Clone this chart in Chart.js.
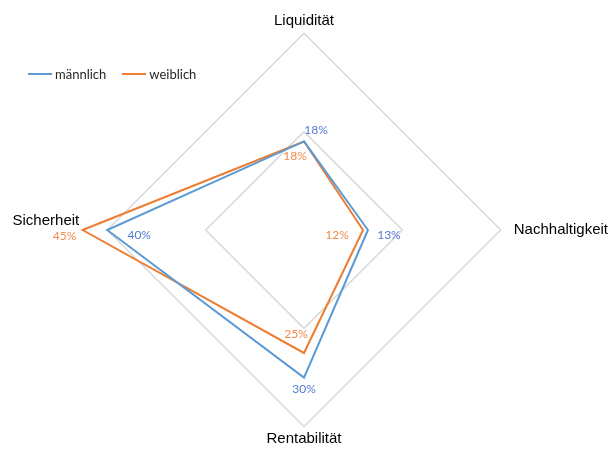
<!DOCTYPE html>
<html lang="de">
<head>
<meta charset="utf-8">
<title>Anlageziele nach Geschlecht</title>
<script src="https://cdn.jsdelivr.net/npm/chart.js@4.4.0/dist/chart.umd.min.js"></script>
<style>
  html, body { margin: 0; padding: 0; background: #fff; }
  #chartBox { position: relative; width: 615px; height: 452px; }
  #legend {
    position: absolute; left: 28px; top: 66px;
    display: flex; font: 13px Lato, sans-serif; color: #262626;
  }
  .legend-item { display: flex; align-items: center; margin-right: 16px; }
  .legend-line { width: 24px; height: 0; border-top: 2px solid; margin-right: 3px; }
</style>
</head>
<body>
<div id="chartBox">
  <canvas id="radarChart"></canvas>
  <div id="legend"></div>
</div>
<script>
// data
const categories = ["Liquidität", "Nachhaltigkeit", "Rentabilität", "Sicherheit"];
const seriesNames = ["männlich", "weiblich"];
const maleValues = [18, 13, 30, 40];
const femaleValues = [18, 12, 25, 45];
const gridTicks = [0, 20, 40];

// styling
const lineColors = ["#5B9BD5", "#ED7D31"];
const labelColors = ["#5479D2", "#F08A4B"];
const labelPadding = [3, 13, 3, 28];
// where each value label sits relative to its point (dx, dy)
const labelOffsets = [
  [[12, -11], [21, 5], [0, 12], [32, 5]],
  [[-9, 15], [-26, 5], [-8, -19], [-18, 6]]
];

// ------------------------------------------------------------
// value labels (no datalabels plugin available offline)
// ------------------------------------------------------------
const valueLabels = {
  id: "valueLabels",
  afterDatasetsDraw(chart) {
    const ctx = chart.ctx;
    ctx.save();
    ctx.font = "12px Lato, sans-serif";
    ctx.textAlign = "center";
    ctx.textBaseline = "middle";
    chart.data.datasets.forEach((ds, d) => {
      const meta = chart.getDatasetMeta(d);
      ctx.fillStyle = labelColors[d];
      meta.data.forEach((pt, i) => {
        const [dx, dy] = labelOffsets[d][i];
        ctx.fillText(ds.data[i] + "%", pt.x + dx, pt.y + dy);
      });
    });
    ctx.restore();
  }
};

const datasets = [maleValues, femaleValues].map((values, i) => ({
  label: seriesNames[i],
  data: values,
  borderColor: lineColors[i],
  backgroundColor: lineColors[i],
  borderWidth: 2,
  fill: false,
  pointRadius: 0,
  tension: 0
}));

new Chart(document.getElementById("radarChart"), {
  type: "radar",
  data: { labels: categories, datasets },
  plugins: [valueLabels],
  options: {
    responsive: true,
    maintainAspectRatio: false,
    animation: false,
    // tuned so the 40% ring lands where the original has it
    layout: { padding: { top: 10, bottom: 2, left: 7, right: 0 } },
    plugins: {
      legend: { display: false },
      tooltip: { enabled: false }
    },
    scales: {
      r: {
        min: gridTicks[0],
        max: gridTicks[gridTicks.length - 1],
        ticks: { display: false, stepSize: gridTicks[1] - gridTicks[0] },
        angleLines: { display: false },
        grid: { color: "#d9d9d9", lineWidth: 1.5 },
        pointLabels: {
          color: "#000",
          font: { family: "'Liberation Sans', Arial, sans-serif", size: 15 },
          padding: ctx => labelPadding[ctx.index],
          // push "Sicherheit" up a little, like the original
          callback: (label, i) => (i === 3 ? [label, ""] : label)
        }
      }
    }
  }
});

// html legend
document.getElementById("legend").innerHTML = seriesNames.map((name, i) => `
  <div class="legend-item">
    <span class="legend-line" style="border-color:${lineColors[i]}"></span>${name}
  </div>`).join("");
</script>
</body>
</html>
